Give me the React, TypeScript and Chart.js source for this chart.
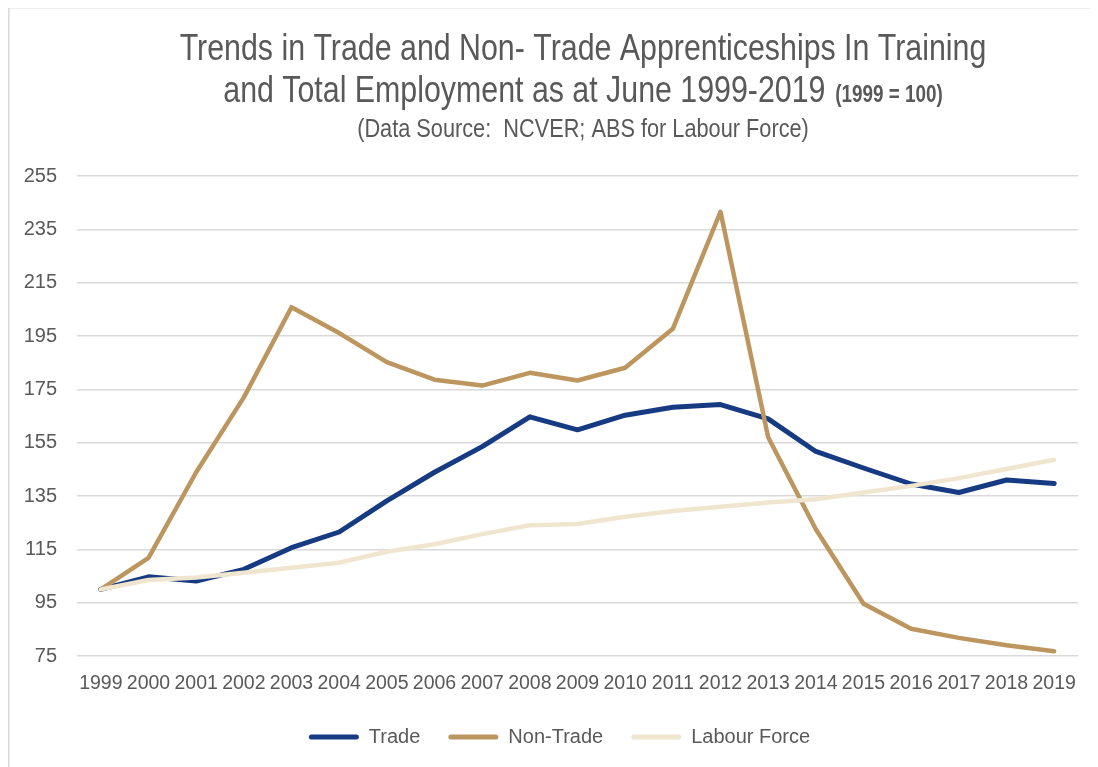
import React, { useEffect, useRef } from "react";
import { Chart, registerables } from "chart.js";

Chart.register(...registerables);

const FONT = '"Liberation Sans", Arial, sans-serif';
const TEXT = "#595959";

const TITLE_LINE1 = "Trends in Trade and Non- Trade Apprenticeships In Training";
const TITLE_LINE2 = "and Total Employment as at June 1999-2019";
const TITLE_NOTE = "(1999 = 100)";
const SUBTITLE = "(Data Source:  NCVER; ABS for Labour Force)";

const years = ["1999", "2000", "2001", "2002", "2003", "2004", "2005", "2006", "2007", "2008", "2009", "2010", "2011", "2012", "2013", "2014", "2015", "2016", "2017", "2018", "2019"];
const trade = [100, 104.7, 103.1, 107.5, 115.6, 121.5, 133.2, 143.9, 153.5, 164.7, 159.8, 165.3, 168.3, 169.3, 163.9, 151.7, 145.5, 139.5, 136.3, 141.0, 139.7];
const nonTrade = [100, 111.8, 143.9, 172.0, 205.8, 196.1, 185.2, 178.6, 176.4, 181.2, 178.3, 183.1, 197.7, 241.6, 157.0, 122.5, 94.6, 85.2, 81.8, 79.0, 76.8];
const labourForce = [100, 103.5, 104.4, 106.2, 108.1, 110.0, 114.1, 116.9, 120.7, 124.0, 124.5, 127.2, 129.4, 131.0, 132.6, 133.8, 136.3, 138.8, 141.7, 145.1, 148.6];
const yTicks = { min: 75, max: 255, step: 20 };

const seriesNames = ["Trade", "Non-Trade", "Labour Force"];
const seriesColors = ["#173b83", "#bd965f", "#f0e5cf"];

// narrow-looking title text (horizontal compression like Arial Narrow)
const NARROW = 0.82;

const frameAndTitle = {
  id: "frameAndTitle",
  afterLayout(chart: any) {
    const lg = chart.legend;
    if (lg) lg.left += 33;
  },
  beforeDraw(chart: any) {
    const { ctx, width, height } = chart;
    ctx.save();
    ctx.strokeStyle = "#d9d9d9";
    ctx.lineWidth = 1.5;
    ctx.beginPath();
    ctx.moveTo(0.75, height);
    ctx.lineTo(0.75, 0.75);
    ctx.lineTo(width, 0.75);
    ctx.stroke();
    ctx.restore();
  },
  afterDraw(chart: any) {
    const { ctx } = chart;
    const cx = 575;
    ctx.save();
    ctx.translate(cx, 0);
    ctx.scale(NARROW, 1);
    ctx.fillStyle = TEXT;
    ctx.textBaseline = "alphabetic";
    ctx.textAlign = "center";
    ctx.font = `37px ${FONT}`;
    ctx.fillText(TITLE_LINE1, 0, 53);
    const w1 = ctx.measureText(TITLE_LINE2).width;
    ctx.font = `bold 23px ${FONT}`;
    const w2 = ctx.measureText(TITLE_NOTE).width;
    const gap = 12;
    const start = -(w1 + gap + w2) / 2;
    ctx.textAlign = "left";
    ctx.font = `37px ${FONT}`;
    ctx.fillText(TITLE_LINE2, start, 95);
    ctx.font = `bold 23px ${FONT}`;
    ctx.fillText(TITLE_NOTE, start + w1 + gap, 95);
    ctx.textAlign = "center";
    ctx.font = `26.5px ${FONT}`;
    ctx.fillText(SUBTITLE, 0, 130);
    ctx.restore();
  },
};

export default function App() {
  const ref = useRef<HTMLCanvasElement | null>(null);
  useEffect(() => {
    if (!ref.current) return;
    const values = [trade, nonTrade, labourForce];
    const chart = new Chart(ref.current, {
      type: "line",
      data: {
        labels: years,
        datasets: values.map((v, i) => ({
          label: seriesNames[i],
          data: v,
          borderColor: seriesColors[i],
          backgroundColor: seriesColors[i],
          borderWidth: i === 0 ? 5 : 4.5,
          pointRadius: 0,
          pointHoverRadius: 0,
          tension: 0,
          borderCapStyle: "round",
          borderJoinStyle: "round",
          order: 2 - i,
        })),
      },
      options: {
        animation: false,
        responsive: true,
        maintainAspectRatio: false,
        layout: { padding: { top: 169, left: 0, right: 20, bottom: 10 } },
        scales: {
          x: {
            offset: true,
            grid: { display: false, drawTicks: false },
            border: { display: false },
            ticks: { autoSkip: false, maxRotation: 0, minRotation: 0, padding: 16, color: TEXT, font: { family: FONT, size: 19.5 } },
            afterFit: (s: any) => { s.height = 43; },
          },
          y: {
            min: yTicks.min,
            max: yTicks.max,
            grid: { color: "#d9d9d9", lineWidth: 1.5, drawTicks: false },
            border: { display: false },
            ticks: { stepSize: yTicks.step, padding: 20, color: TEXT, font: { family: FONT, size: 20 } },
            afterFit: (s: any) => { s.width = 69; },
          },
        },
        plugins: {
          title: { display: false },
          tooltip: { enabled: false },
          legend: {
            display: true,
            position: "bottom",
            labels: {
              color: TEXT,
              font: { family: FONT, size: 20 },
              boxWidth: 50,
              boxHeight: 5,
              padding: 28,
              useBorderRadius: true,
              borderRadius: 2.5,
              sort: (a: any, b: any) => a.datasetIndex - b.datasetIndex,
              generateLabels: (c: any) =>
                Chart.defaults.plugins.legend.labels.generateLabels(c).map((it: any) => ({
                  ...it,
                  fillStyle: seriesColors[it.datasetIndex],
                  lineWidth: 0,
                })),
            },
          },
        },
      },
      plugins: [frameAndTitle],
    });
    return () => chart.destroy();
  }, []);
  return (
    <div style={{ width: 1090, height: 760, marginTop: -1, position: "relative" }}>
      <canvas ref={ref} />
    </div>
  );
}
